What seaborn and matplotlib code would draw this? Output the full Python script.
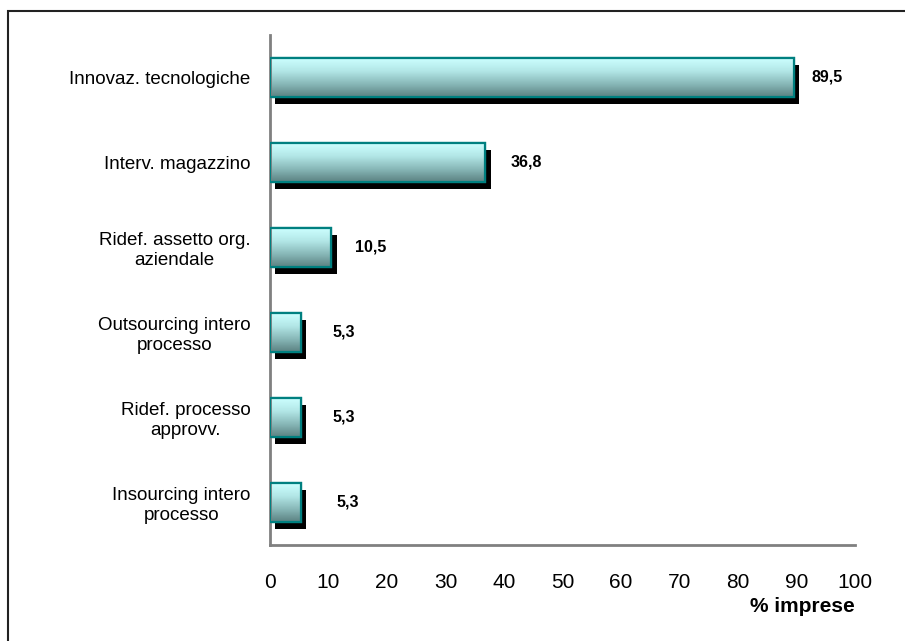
import matplotlib
matplotlib.use("Agg")
import matplotlib.pyplot as plt
import matplotlib.patheffects as pe
from matplotlib.colors import LinearSegmentedColormap
from matplotlib.patches import Rectangle
import numpy as np
import pandas as pd
import seaborn as sns

categories = [
    "Innovaz. tecnologiche",
    "Interv. magazzino",
    "Ridef. assetto org.\naziendale",
    "Outsourcing intero\nprocesso",
    "Ridef. processo\napprovv.",
    "Insourcing intero\nprocesso",
]
values = [89.5, 36.8, 10.5, 5.3, 5.3, 5.3]
x_ticks = [0, 10, 20, 30, 40, 50, 60, 70, 80, 90, 100]

sns.set_theme(style="white")
plt.rcParams["font.family"] = ["Liberation Sans Narrow", "Liberation Sans", "DejaVu Sans"]
plt.rcParams["text.color"] = "black"
plt.rcParams["xtick.color"] = "black"
plt.rcParams["ytick.color"] = "black"
plt.rcParams["axes.labelcolor"] = "black"

df = pd.DataFrame({"categoria": categories, "valore": values})

fig = plt.figure(figsize=(9.05, 6.41), dpi=100)
ax = fig.add_axes([0.2983, 0.1498, 0.6465, 0.7956])

sns.barplot(data=df, x="valore", y="categoria", orient="h", ax=ax,
            color="#9ad6d6", edgecolor="#008080", linewidth=1.6, width=0.45)

grad_cmap = LinearSegmentedColormap.from_list(
    "bar_grad", ["#ccffff", "#b2e6e6", "#88b8b8", "#5c8282"])
grad = np.linspace(0, 1, 64).reshape(-1, 1)

for p in list(ax.patches):
    p.set_zorder(2)
    p.set_path_effects([
        pe.SimplePatchShadow(offset=(3.8, -5.0), shadow_rgbFace="black", alpha=1.0),
        pe.Normal(),
    ])
    x0, y0, w, h = p.get_x(), p.get_y(), p.get_width(), p.get_height()
    im = ax.imshow(grad, extent=[x0, x0 + w, y0 + h, y0], origin="upper",
                   aspect="auto", cmap=grad_cmap, zorder=2.5, interpolation="bilinear")
    im.set_clip_path(p)
    ax.add_patch(Rectangle((x0, y0), w, h, fill=False, edgecolor="#008080",
                           linewidth=1.6, zorder=3))

# value labels, Italian decimal comma
offsets = [18, 25, 24, 32, 32, 36]
for p, v, off in zip(ax.patches[:len(values)], values, offsets):
    ax.annotate(f"{v:.1f}".replace(".", ","),
                xy=(v, p.get_y() + p.get_height() / 2),
                xytext=(off * 0.72, 0), textcoords="offset points",
                ha="left", va="center", fontsize=11.5, fontweight="bold",
                family=["Liberation Sans", "DejaVu Sans"], color="black")

ax.set_xlim(0, 100)
ax.set_ylim(5.5, -0.5)
ax.set_xticks(x_ticks)
ax.set_xticklabels([str(t) for t in x_ticks], fontsize=15)
ax.tick_params(axis="x", direction="out", length=6, width=1, color="black", pad=14)
ax.tick_params(axis="y", length=0, labelsize=13.5, pad=14)
for lbl in ax.get_yticklabels():
    lbl.set_multialignment("center")
ax.set_ylabel("")
ax.set_xlabel("% imprese", fontsize=15, fontweight="bold", loc="right", labelpad=4)

for side in ["top", "right"]:
    ax.spines[side].set_visible(False)
for side in ["left", "bottom"]:
    ax.spines[side].set_color("#808080")
    ax.spines[side].set_linewidth(2)

# outer frame around the chart area
fig.patches.append(Rectangle((8 / 905, -0.1), 1.2, 1 - 11 / 641 + 0.1,
                             transform=fig.transFigure, fill=False,
                             edgecolor="#222222", linewidth=1.5, zorder=0))

fig.savefig("out.png", dpi=100, facecolor="white")
